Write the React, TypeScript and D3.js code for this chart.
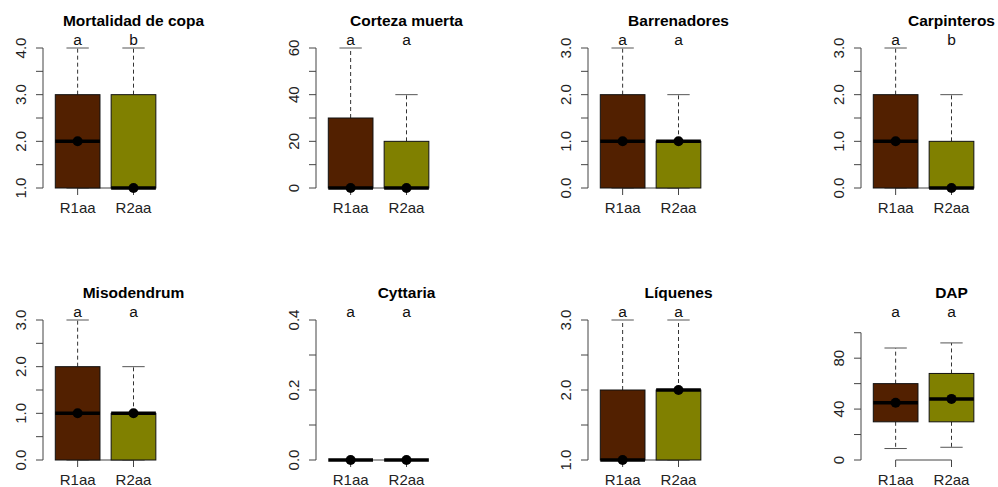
import * as d3 from 'd3'

// Box statistics per panel: [lower whisker, Q1, median, Q3, upper whisker]
const groups = ['R1aa', 'R2aa']
const colors = ['#522000', '#808000']

const titles = ['Mortalidad de copa', 'Corteza muerta', 'Barrenadores', 'Carpinteros',
  'Misodendrum', 'Cyttaria', 'Líquenes', 'DAP']

const statsR1 = [
  [1, 1, 2, 3, 4],
  [0, 0, 0, 30, 60],
  [0, 0, 1, 2, 3],
  [0, 0, 1, 2, 3],
  [0, 0, 1, 2, 3],
  [0, 0, 0, 0, 0],
  [1, 1, 1, 2, 3],
  [9, 30, 45, 60, 88],
]
const statsR2 = [
  [1, 1, 1, 3, 4],
  [0, 0, 0, 20, 40],
  [0, 0, 1, 1, 2],
  [0, 0, 0, 1, 2],
  [0, 0, 1, 1, 2],
  [0, 0, 0, 0, 0],
  [1, 1, 2, 2, 3],
  [10, 30, 48, 68, 92],
]
const points = [[2, 1], [0, 0], [1, 1], [1, 0], [1, 1], [0, 0], [1, 2], [45, 48]]
const letters = [['a', 'b'], ['a', 'a'], ['a', 'a'], ['a', 'b'], ['a', 'a'], ['a', 'a'], ['a', 'a'], ['a', 'a']]

const yDomains = [[1, 4], [0, 60], [0, 3], [0, 3], [0, 3], [0, 0.4], [1, 3], [0, 110]]
const yTicks = [
  [1, 1.5, 2, 2.5, 3, 3.5, 4],
  [0, 10, 20, 30, 40, 50, 60],
  [0, 0.5, 1, 1.5, 2, 2.5, 3],
  [0, 0.5, 1, 1.5, 2, 2.5, 3],
  [0, 0.5, 1, 1.5, 2, 2.5, 3],
  [0, 0.1, 0.2, 0.3, 0.4],
  [1, 1.5, 2, 2.5, 3],
  [0, 20, 40, 60, 80, 100],
]
const yLabels = [
  ['1.0', '', '2.0', '', '3.0', '', '4.0'],
  ['0', '', '20', '', '40', '', '60'],
  ['0.0', '', '1.0', '', '2.0', '', '3.0'],
  ['0.0', '', '1.0', '', '2.0', '', '3.0'],
  ['0.0', '', '1.0', '', '2.0', '', '3.0'],
  ['0.0', '', '0.2', '', '0.4'],
  ['1.0', '', '2.0', '', '3.0'],
  ['0', '', '40', '', '80', ''],
]

const W = 998
const H = 487
const colLeft = [43, 316, 588, 861]
const rowTop = [48, 320]
const rowBottom = [188, 460]
const plotW = 181
const font = '"Liberation Sans", Arial, Helvetica, sans-serif'

const Panel = ({ i }: { i: number }) => {
  const left = colLeft[i % 4]
  const top = rowTop[Math.floor(i / 4)]
  const bottom = rowBottom[Math.floor(i / 4)]
  const x = d3.scaleLinear().domain([0.38, 3.62]).range([left, left + plotW])
  const y = d3.scaleLinear().domain(yDomains[i]).range([bottom, top])
  const ticks = yTicks[i]
  const bw = x(1.8) - x(1)
  const cap = x(1.2) - x(1)
  const all = [statsR1[i], statsR2[i]]

  return (
    <g>
      <text x={x(2)} y={top - 22} textAnchor="middle" fontWeight="bold" fontSize={15.5} fontFamily={font}>{titles[i]}</text>
      {/* y axis */}
      <line x1={left} x2={left} y1={y(ticks[0])} y2={y(ticks[ticks.length - 1])} stroke="#444" />
      {ticks.map((t, k) => (
        <g key={k}>
          <line x1={left - 7} x2={left} y1={y(t)} y2={y(t)} stroke="#444" />
          {yLabels[i][k] && (
            <text transform={`translate(${left - 17},${y(t)}) rotate(-90)`} textAnchor="middle" fontSize={15} fontFamily={font} fill="#222">{yLabels[i][k]}</text>
          )}
        </g>
      ))}
      {/* x axis */}
      <line x1={x(1)} x2={x(2)} y1={bottom} y2={bottom} stroke="#444" />
      {groups.map((g, k) => (
        <g key={g}>
          <line x1={x(k + 1)} x2={x(k + 1)} y1={bottom} y2={bottom + 7} stroke="#444" />
          <text x={x(k + 1)} y={bottom + 24.5} textAnchor="middle" fontSize={15} fontFamily={font} fill="#222">{g}</text>
          <text x={x(k + 1)} y={top - 3} textAnchor="middle" fontSize={15.5} fontFamily={font} fill="#111">{letters[i][k]}</text>
        </g>
      ))}
      {all.map((s, k) => {
        const cx = x(k + 1)
        return (
          <g key={k}>
            <line x1={cx} x2={cx} y1={y(s[3])} y2={y(s[4])} stroke="#333" strokeDasharray="4,3" />
            <line x1={cx} x2={cx} y1={y(s[1])} y2={y(s[0])} stroke="#333" strokeDasharray="4,3" />
            <line x1={cx - cap} x2={cx + cap} y1={y(s[4])} y2={y(s[4])} stroke="#555" />
            <line x1={cx - cap} x2={cx + cap} y1={y(s[0])} y2={y(s[0])} stroke="#555" />
            <rect x={cx - bw / 2} y={y(s[3])} width={bw} height={Math.max(0, y(s[1]) - y(s[3]))} fill={colors[k]} stroke="#111" />
            <line x1={cx - bw / 2} x2={cx + bw / 2} y1={y(s[2])} y2={y(s[2])} stroke="#000" strokeWidth={3.5} />
            <circle cx={cx} cy={y(points[i][k])} r={5} fill="#000" />
          </g>
        )
      })}
    </g>
  )
}

export default function App() {
  return (
    <svg width={W} height={H} style={{ display: 'block', position: 'absolute', left: 0, top: 0 }}>
      <rect width={W} height={H} fill="#fff" />
      {titles.map((_, i) => <Panel key={i} i={i} />)}
    </svg>
  )
}
